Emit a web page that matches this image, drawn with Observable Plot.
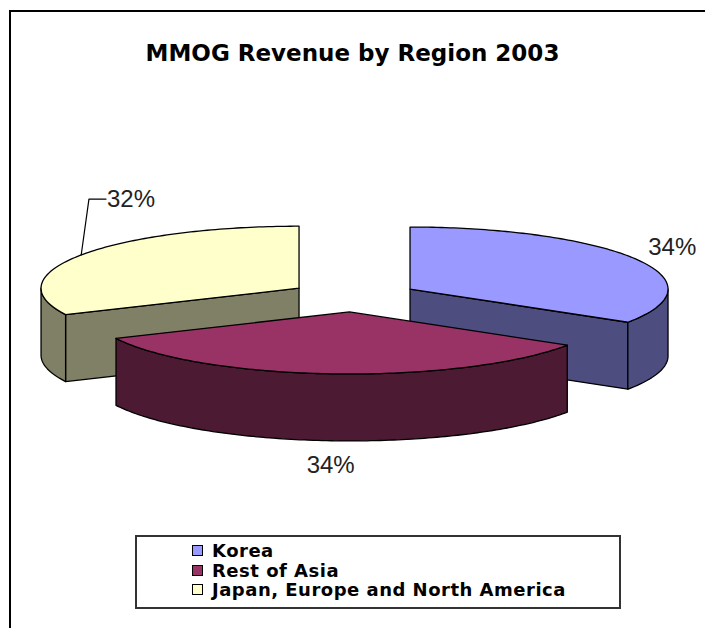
<!DOCTYPE html>
<html>
<head>
<meta charset="utf-8">
<script src="https://cdn.jsdelivr.net/npm/d3@7"></script>
<script src="https://cdn.jsdelivr.net/npm/@observablehq/plot@0.6"></script>
<style>
  body { margin: 0; background: #fff; }
  #wrap { position: relative; width: 705px; height: 628px; overflow: hidden; background: #fff; }
  #frame { position: absolute; left: 9px; top: 10px; width: 800px; height: 700px;
           border-left: 2px solid #000; border-top: 2px solid #000; }
  #title { position: absolute; left: 0; top: 40px; width: 705px; text-align: center;
           font: bold 23px/27px "DejaVu Sans", sans-serif; color: #000; }
  #chart { position: absolute; left: 0; top: 90px; }
  #legend { position: absolute; left: 135px; top: 535px; width: 482px; height: 70px;
            border: 2px solid #333; background: #fff; box-sizing: content-box;
            padding: 0; }
  #legend .rows { padding: 4px 0 0 55px; }
  #legend .row { height: 19.5px; line-height: 19.5px; display: flex; align-items: center;
                 font: bold 18px "DejaVu Sans", sans-serif; letter-spacing: 0.5px; color: #000; white-space: nowrap; }
  #legend .sw { width: 11px; height: 11px; box-sizing: border-box; border: 1.5px solid #000;
                margin-right: 9px; flex: none; }
</style>
</head>
<body>
<div id="wrap">
  <div id="frame"></div>
  <div id="title"></div>
  <div id="chart"></div>
  <div id="legend"><div class="rows"></div></div>
</div>
<script>
// ---- data ----
const chartTitle = "MMOG Revenue by Region 2003";
const regions = ["Korea", "Rest of Asia", "Japan, Europe and North America"];
const shares = [34, 34, 32];
const labels = ["34%", "34%", "32%"];
const topColors = ["#9999FF", "#993366", "#FFFFCC"];
const sideColors = ["#4D4D80", "#4C1A33", "#808066"];

// ---- layout ----
const EXPLODE = 0.25;   // explosion as fraction of radius
const DEPTH = 1.08;     // slab thickness in y units
const rad = a => a * Math.PI / 180;
const total = d3.sum(shares);

let acc = 0;
const slices = shares.map((v, i) => {
  const a0 = acc / total * 360; acc += v; const a1 = acc / total * 360;
  const am = (a0 + a1) / 2;
  return {i, a0, a1, am, ox: EXPLODE * Math.sin(rad(am)), oy: -EXPLODE * Math.cos(rad(am))};
});
const P = (s, a, dz = 0) => ({x: s.ox + Math.sin(rad(a)), y: s.oy - Math.cos(rad(a)) + dz});
function arc(s, from, to, dz) {
  const n = Math.max(2, Math.ceil(Math.abs(to - from)));
  return d3.range(n + 1).map(k => P(s, from + (to - from) * k / n, dz));
}

const marks = [];
const edge = {stroke: "#000", strokeWidth: 1.3, strokeLinejoin: "round"};
[...slices].sort((a, b) => a.oy - b.oy).forEach(s => {
  const c = {x: s.ox, y: s.oy}, cd = {x: s.ox, y: s.oy + DEPTH};
  const faces = [];
  if (Math.sin(rad(s.a0)) < -1e-6) faces.push([c, P(s, s.a0), P(s, s.a0, DEPTH), cd, c]);
  if (Math.sin(rad(s.a1)) > 1e-6) faces.push([c, P(s, s.a1), P(s, s.a1, DEPTH), cd, c]);
  const lo = Math.max(s.a0, 90), hi = Math.min(s.a1, 270);
  if (hi > lo) {
    const w = [...arc(s, lo, hi, 0), ...arc(s, hi, lo, DEPTH)];
    w.push(w[0]);
    faces.push(w);
  }
  faces.forEach(f => marks.push(Plot.line(f, {x: "x", y: "y", fill: sideColors[s.i], ...edge})));
  const top = [c, ...arc(s, s.a0, s.a1, 0), c];
  marks.push(Plot.line(top, {x: "x", y: "y", fill: topColors[s.i], ...edge}));
});

// labels
const LX = 1.16, LY = 1.4;
const leaderIndex = 2;
const labelData = [];
slices.forEach(s => {
  if (s.i === leaderIndex) return;
  const front = Math.cos(rad(s.am)) < 0;
  labelData.push({x: s.ox + LX * Math.sin(rad(s.am)), y: s.oy - LY * Math.cos(rad(s.am)) + (front ? DEPTH : 0), t: labels[s.i]});
});
const ls = slices[leaderIndex];
const p0 = P(ls, ls.am);
const elbow = {x: p0.x + 0.03, y: p0.y - 0.9};
const run = {x: elbow.x + 17 / 258, y: elbow.y};
marks.push(Plot.line([p0, elbow, run], {x: "x", y: "y", stroke: "#000", strokeWidth: 1.2}));
marks.push(Plot.text(labelData, {x: "x", y: "y", text: "t", fontSize: 24, fontFamily: "Liberation Sans, Arial, sans-serif", fill: "#222"}));
marks.push(Plot.text([{x: run.x, y: run.y, t: labels[leaderIndex]}], {x: "x", y: "y", text: "t", textAnchor: "start", dx: 1, fontSize: 24, fontFamily: "Liberation Sans, Arial, sans-serif", fill: "#222"}));

const CX = 353, CY = 296 - 90, RX = 258, RY = 62;
const plot = Plot.plot({
  width: 705, height: 410, margin: 0,
  x: {domain: [-1, 1], range: [CX - RX, CX + RX], axis: null},
  y: {domain: [-1, 1], range: [CY - RY, CY + RY], axis: null},
  marks
});
document.getElementById("chart").appendChild(plot);
document.getElementById("title").textContent = chartTitle;

const rows = document.querySelector("#legend .rows");
regions.forEach((r, i) => {
  const row = document.createElement("div"); row.className = "row";
  const sw = document.createElement("span"); sw.className = "sw"; sw.style.background = topColors[i];
  const tx = document.createElement("span"); tx.textContent = r;
  row.appendChild(sw); row.appendChild(tx); rows.appendChild(row);
});
</script>
</body>
</html>
